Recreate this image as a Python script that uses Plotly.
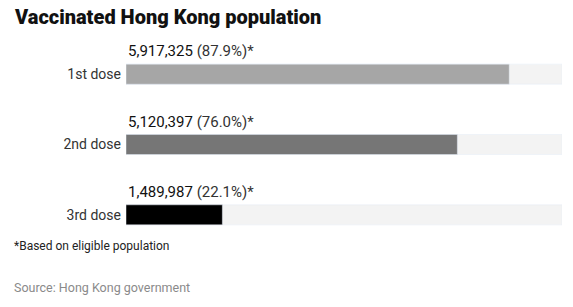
import plotly.graph_objects as go

categories = ["1st dose", "2nd dose", "3rd dose"]
counts = [5917325, 5120397, 1489987]
percents = [87.9, 76.0, 22.1]
full = [100, 100, 100]
colors = ["#a6a6a6", "#767676", "#000000"]

fig = go.Figure()
fig.add_trace(go.Bar(y=categories, x=full, orientation="h", marker_color="#f3f3f3",
                     width=0.285, hoverinfo="skip", showlegend=False))
fig.add_trace(go.Bar(y=categories, x=percents, orientation="h", marker_color=colors,
                     width=0.285, showlegend=False))

for c, n, p in zip(categories, counts, percents):
    fig.add_annotation(x=0, y=c, xref="x", yref="y", xanchor="left", yanchor="middle",
                       yshift=23, showarrow=False,
                       text=f"<span style='color:#111111'>{n:,}</span> ({p:.1f}%)*",
                       font=dict(family="Roboto", size=15, color="#333333"))

fig.update_layout(
    width=573, height=307,
    margin=dict(l=126, r=11, t=39, b=57),
    paper_bgcolor="white", plot_bgcolor="white",
    barmode="overlay",
    xaxis=dict(range=[0, 100], visible=False, fixedrange=True),
    yaxis=dict(autorange="reversed", showgrid=False, zeroline=False, showline=False,
               ticks="", ticklabelstandoff=4,
               tickfont=dict(family="Roboto", size=14, color="#333333")),
    font=dict(family="Roboto"),
)

H = 307 - 39 - 57
W = 573 - 126 - 11

def px_to_paper(xp, yp):
    return (xp - 126) / W, (307 - 57 - yp) / H

tx, ty = px_to_paper(12, 17)
fig.add_annotation(x=tx, y=ty, xref="paper", yref="paper", xanchor="left", yanchor="middle",
                   showarrow=False, text="Vaccinated Hong Kong population",
                   font=dict(family="Roboto", size=20, color="#111111", weight=900))
fx, fy = px_to_paper(12, 246)
fig.add_annotation(x=fx, y=fy, xref="paper", yref="paper", xanchor="left", yanchor="middle",
                   showarrow=False, text="*Based on eligible population",
                   font=dict(family="Roboto", size=12, color="#222222"))
sx, sy = px_to_paper(12, 287)
fig.add_annotation(x=sx, y=sy, xref="paper", yref="paper", xanchor="left", yanchor="middle",
                   showarrow=False, text="Source: Hong Kong government",
                   font=dict(family="Roboto", size=12.5, color="#8a8a8a"))

fig.write_html("out.html")
